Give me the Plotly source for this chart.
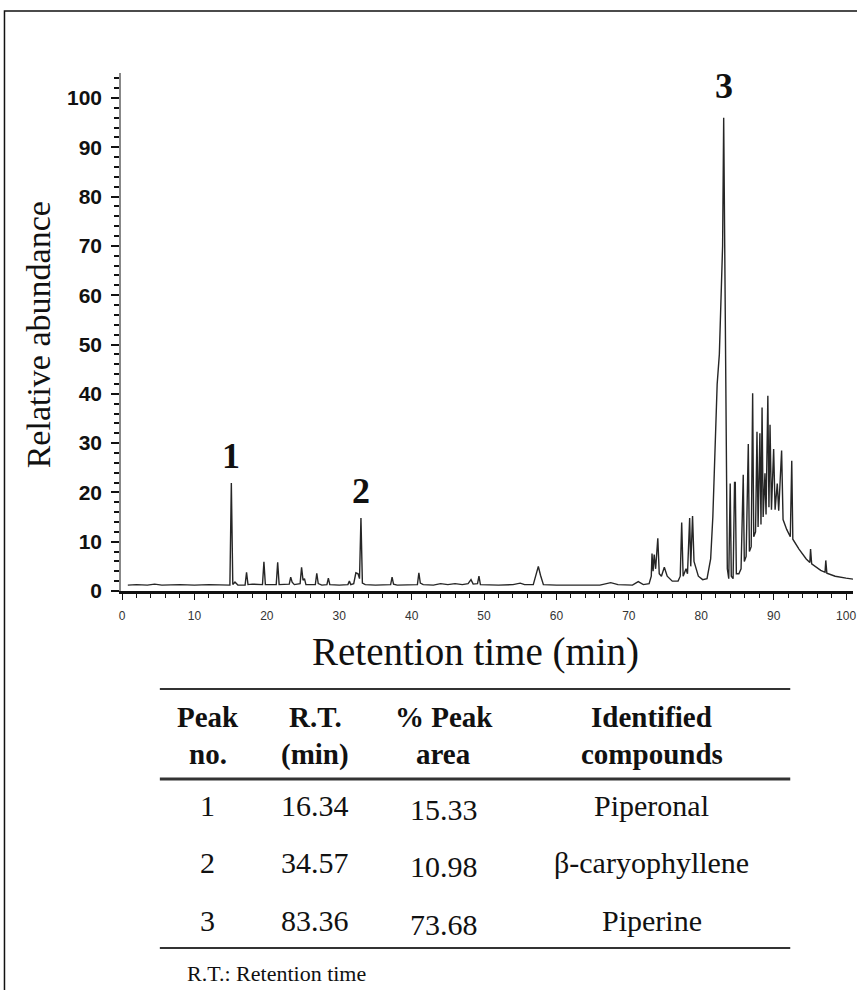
import plotly.graph_objects as go

# ---------------- data ----------------
retention_time = [
    0.8, 2.0, 3.5, 4.5, 5.5, 8.0, 10.0, 12.0, 14.9, 15.1, 15.3, 15.6, 16.0,
    17.0, 17.2, 17.4, 18.0, 19.4, 19.6, 19.8, 21.3, 21.5, 21.7, 23.1, 23.3,
    23.5, 23.8, 24.6, 24.8, 25.0, 25.2, 25.4, 26.7, 26.9, 27.1, 27.6, 28.3,
    28.5, 28.7, 30.0, 31.2, 31.4, 31.6, 32.0, 32.3, 32.6, 32.8, 33.0, 33.2,
    33.6, 35.0, 37.1, 37.3, 37.5, 38.0, 40.8, 41.0, 41.2, 41.6, 43.0, 44.0,
    45.0, 46.0, 47.0, 47.8, 48.2, 48.5, 49.1, 49.3, 49.5, 52.0, 54.0, 55.0,
    55.6, 56.8, 57.2, 57.5, 57.8, 58.2, 60.0, 63.0, 66.0, 67.5, 68.5, 70.5,
    71.3, 72.0, 72.8, 73.1, 73.2, 73.35, 73.5, 73.7, 74.0, 74.2, 74.5, 74.9,
    75.3, 76.0, 76.8, 77.1, 77.3, 77.5, 77.9, 78.1, 78.4, 78.55, 78.8, 79.0,
    79.2, 79.6, 80.2, 80.8, 81.3, 81.6, 81.8, 82.2, 82.5, 82.8, 82.95, 83.1,
    83.25, 83.4, 83.6, 83.8, 84.0, 84.15, 84.4, 84.6, 84.7, 84.85, 85.2, 85.5,
    85.8, 85.95, 86.2, 86.5, 86.65, 86.9, 87.1, 87.25, 87.5, 87.7, 87.85,
    88.1, 88.25, 88.4, 88.55, 88.8, 88.95, 89.2, 89.35, 89.5, 89.7, 90.0,
    90.2, 90.5, 90.7, 91.1, 91.3, 91.8, 92.3, 92.5, 92.65, 93.5, 94.5, 95.0,
    95.1, 95.25, 96.5, 97.1, 97.2, 97.35, 98.5, 100.0, 101.0,
]
relative_abundance = [
    1.2, 1.3, 1.2, 1.4, 1.2, 1.3, 1.2, 1.3, 1.2, 21.9, 1.3, 1.8, 1.2,
    1.2, 3.8, 1.3, 1.4, 1.3, 5.9, 1.3, 1.3, 5.8, 1.3, 1.4, 2.8,
    1.8, 1.3, 1.5, 4.8, 2.2, 2.5, 1.3, 1.3, 3.6, 1.5, 1.2, 1.3,
    2.6, 1.3, 1.2, 1.3, 2.0, 1.3, 1.5, 3.7, 3.5, 2.5, 14.8, 1.6,
    1.3, 1.2, 1.3, 2.8, 1.4, 1.2, 1.3, 3.7, 1.6, 1.3, 1.2, 1.5,
    1.3, 1.5, 1.3, 1.5, 2.3, 1.4, 1.5, 3.0, 1.3, 1.2, 1.3, 1.6,
    1.3, 1.3, 3.5, 5.0, 3.2, 1.3, 1.2, 1.2, 1.2, 1.7, 1.3, 1.2,
    1.9, 1.3, 1.5, 3.0, 7.6, 4.0, 7.4, 4.5, 10.7, 3.5, 3.0, 4.8,
    3.0, 2.0, 2.0, 3.0, 13.9, 3.0, 4.5, 3.5, 14.8, 5.0, 15.2, 6.0,
    5.0, 3.0, 2.3, 2.5, 6.5, 15.0, 23.9, 42.0, 48.0, 62.0, 70.0, 96.0,
    66.0, 31.0, 4.5, 2.5, 21.8, 3.0, 2.5, 22.0, 22.0, 3.5, 3.5, 4.5,
    23.6, 6.0, 7.0, 29.8, 8.0, 9.0, 40.1, 11.0, 12.0, 32.3, 13.0,
    32.0, 13.5, 37.2, 15.0, 23.9, 15.5, 39.6, 17.0, 33.7, 16.5, 28.8,
    16.5, 21.8, 16.3, 28.5, 14.5, 12.5, 11.0, 26.4, 10.5, 8.5, 6.5, 5.8,
    8.5, 5.5, 4.2, 3.8, 6.2, 3.6, 3.0, 2.6, 2.4,
]

peak_numbers = ["1", "2", "3"]
peak_apex_time = [15.1, 33.0, 83.1]
rt_min = ["16.34", "34.57", "83.36"]
peak_area_pct = ["15.33", "10.98", "73.68"]
compounds = ["Piperonal", "β-caryophyllene", "Piperine"]
header_cols = [("Peak", "no."), ("R.T.", "(min)"), ("% Peak", "area"),
               ("Identified", "compounds")]
footnote = "R.T.: Retention time"

x_ticks = list(range(0, 101, 10))
y_ticks = list(range(0, 101, 10))

# ---------------- layout geometry (pixels) ----------------
W, H = 857, 990
ML, MR, MT, MB = 121, 1, 73, 399
PW, PH = W - ML - MR, H - MT - MB


def px(x):
    return (x - ML) / PW


def py(y):
    return (H - MB - y) / PH


SERIF = "Liberation Serif, Times New Roman, serif"

fig = go.Figure()
fig.add_trace(go.Scatter(
    x=retention_time, y=relative_abundance, mode="lines",
    line=dict(color="#262626", width=1.4), hoverinfo="skip", showlegend=False,
))

annotations = []
# peak labels above apexes
shifts = [5, 5, 10]
for lab, t, s in zip(peak_numbers, peak_apex_time, shifts):
    yv = max(a for tt, a in zip(retention_time, relative_abundance) if abs(tt - t) < 0.01)
    annotations.append(dict(x=t, y=yv, xref="x", yref="y", text=lab,
                            showarrow=False, xanchor="center", yanchor="bottom", yshift=s,
                            font=dict(family=SERIF, size=36, color="#111", weight=600)))


def txt(x, y, text, size, xanchor="center", angle=0):
    annotations.append(dict(x=px(x), y=py(y), xref="paper", yref="paper",
                            text=text, textangle=angle, showarrow=False,
                            xanchor=xanchor, yanchor="middle",
                            font=dict(family=SERIF, size=size, color="#111")))


# axis titles
txt(38, 335, "Relative abundance", 34, angle=-90)
txt(477, 652, "Retention time (min)", 39)

# table
col_x = [208, 316, 445, 654]
for cx, (l1, l2) in zip(col_x, header_cols):
    txt(cx, 717, "<b>%s</b>" % l1, 29)
    txt(cx, 754, "<b>%s</b>" % l2, 29)

row_y = [805, 862, 920]
for ry, pn, rt, ar, cp in zip(row_y, peak_numbers, rt_min, peak_area_pct, compounds):
    for cx, t_, dy in zip(col_x, [pn, rt, ar, cp], [0, 0, 4, 0]):
        txt(cx, ry + dy, t_, 30)

txt(185, 973, footnote, 22, xanchor="left")

shapes = [
    dict(type="rect", xref="paper", yref="paper", x0=px(4), x1=px(880),
         y0=py(11), y1=py(1010), line=dict(color="#111", width=1.5)),
    dict(type="line", xref="paper", yref="paper", x0=px(160), x1=px(793),
         y0=py(689), y1=py(689), line=dict(color="#333", width=2)),
    dict(type="line", xref="paper", yref="paper", x0=px(160), x1=px(793),
         y0=py(779), y1=py(779), line=dict(color="#333", width=3)),
    dict(type="line", xref="paper", yref="paper", x0=px(160), x1=px(793),
         y0=py(948), y1=py(948), line=dict(color="#333", width=2)),
]

fig.update_layout(
    width=W, height=H,
    margin=dict(l=ML, r=MR, t=MT, b=MB, pad=0),
    paper_bgcolor="white", plot_bgcolor="white",
    annotations=annotations, shapes=shapes,
    xaxis=dict(range=[-0.14, 100.96], tickmode="array", tickvals=x_ticks,
               ticks="outside", ticklen=6, tickwidth=1.2, tickcolor="#111",
               showline=True, linecolor="#111", linewidth=2.5,
               showgrid=False, zeroline=False, ticklabelstandoff=6,
               ticklabeloverflow="allow",
               tickfont=dict(family="Liberation Sans Narrow, Liberation Sans", size=12, color="#333"),
               minor=dict(dtick=2, tick0=0, ticks="outside", ticklen=4,
                          tickwidth=1.2, tickcolor="#111", showgrid=False)),
    yaxis=dict(range=[0, 105.07], tickmode="array", tickvals=y_ticks,
               ticks="outside", ticklen=8, tickwidth=1.5, tickcolor="#111",
               showline=True, linecolor="#888", linewidth=1.5,
               showgrid=False, zeroline=False, ticklabelstandoff=5,
               tickfont=dict(family="Liberation Sans, Arial", size=21, color="#111",
                             weight=600),
               minor=dict(dtick=2, tick0=0, ticks="outside", ticklen=5,
                          tickwidth=1.5, tickcolor="#111", showgrid=False)),
)

fig.write_html("out.html")
